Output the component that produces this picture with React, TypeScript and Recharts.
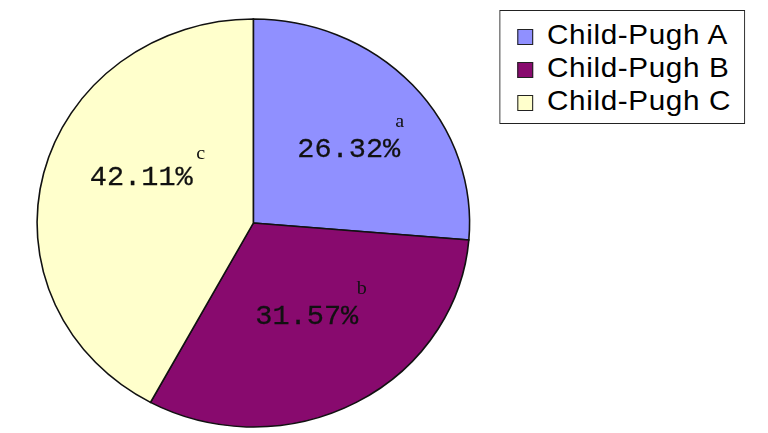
import React from 'react';
import { PieChart, Pie, Cell, Legend } from 'recharts';

// Child-Pugh grade share (%)
const grades = ['Child-Pugh A', 'Child-Pugh B', 'Child-Pugh C'];
const shares = [26.32, 31.57, 42.11];
const marks = ['a', 'b', 'c'];
const colors = ['#9090ff', '#880a6e', '#ffffcc'];

const data = grades.map((name, i) => ({ name, value: shares[i], mark: marks[i] }));

// the original picture is a little wider than tall
const STRETCH = 1.06;

// small hand nudges so the labels sit where the original put them
const labelNudge = [
  { dx: 6, dy: 11, sx: 48, sy: -30 },
  { dx: -4, dy: 1, sx: 52, sy: -30 },
  { dx: 5, dy: -10, sx: 56, sy: -26 },
];

const RADIAN = Math.PI / 180;

const renderLabel = (props: any) => {
  const { cx, cy, midAngle, outerRadius, index } = props;
  const r = outerRadius * 0.56;
  const n = labelNudge[index];
  const x = cx + r * Math.cos(-midAngle * RADIAN) + n.dx;
  const y = cy + r * Math.sin(-midAngle * RADIAN) + n.dy;
  return (
    <g>
      <text
        x={x}
        y={y}
        textAnchor="middle"
        fill="#111"
        stroke="#111"
        strokeWidth={0.25}
        fontFamily="'Liberation Mono', monospace"
        fontSize={27}
      >
        {shares[index].toFixed(2)}%
      </text>
      <text
        x={x + n.sx}
        y={y + n.sy}
        textAnchor="middle"
        fill="#111"
        fontFamily="'Liberation Serif', serif"
        fontSize={19}
      >
        {marks[index]}
      </text>
    </g>
  );
};

const renderLegend = () => (
  <div
    style={{
      border: '1.5px solid #222',
      background: '#fff',
      width: 232,
      height: 114,
      boxSizing: 'border-box',
      padding: '7px 0 0 16px',
      fontFamily: "'Liberation Sans', Arial, sans-serif",
      fontSize: 28,
      letterSpacing: 0.6,
      color: '#000',
    }}
  >
    {data.map((d, i) => (
      <div key={d.name} style={{ display: 'flex', alignItems: 'center', height: 33 }}>
        <span
          style={{
            display: 'inline-block',
            width: 13,
            height: 14,
            background: colors[i],
            border: '1.5px solid #222',
            marginRight: 13,
            marginTop: 4,
          }}
        />
        <span>{d.name}</span>
      </div>
    ))}
  </div>
);

export default function App() {
  return (
    <div style={{ position: 'absolute', left: 0, top: 0, width: 768, height: 433, background: '#fff', overflow: 'hidden' }}>
      <div style={{ transform: `scale(${STRETCH}, 1)`, transformOrigin: '0 0', width: 725, height: 433 }}>
        <PieChart width={725} height={433} margin={{ top: 0, right: 0, bottom: 0, left: 0 }}>
          <Pie
            data={data}
            dataKey="value"
            nameKey="name"
            cx={239}
            cy={223}
            outerRadius={204}
            startAngle={90}
            endAngle={-270}
            stroke="#111"
            strokeWidth={1.5}
            label={renderLabel}
            labelLine={false}
            isAnimationActive={false}
          >
            {data.map((d, i) => (
              <Cell key={d.name} fill={colors[i]} />
            ))}
          </Pie>
          <Legend
            content={renderLegend}
            wrapperStyle={{ position: 'absolute', left: 471, top: 10, width: 232, height: 114 }}
          />
        </PieChart>
      </div>
    </div>
  );
}
